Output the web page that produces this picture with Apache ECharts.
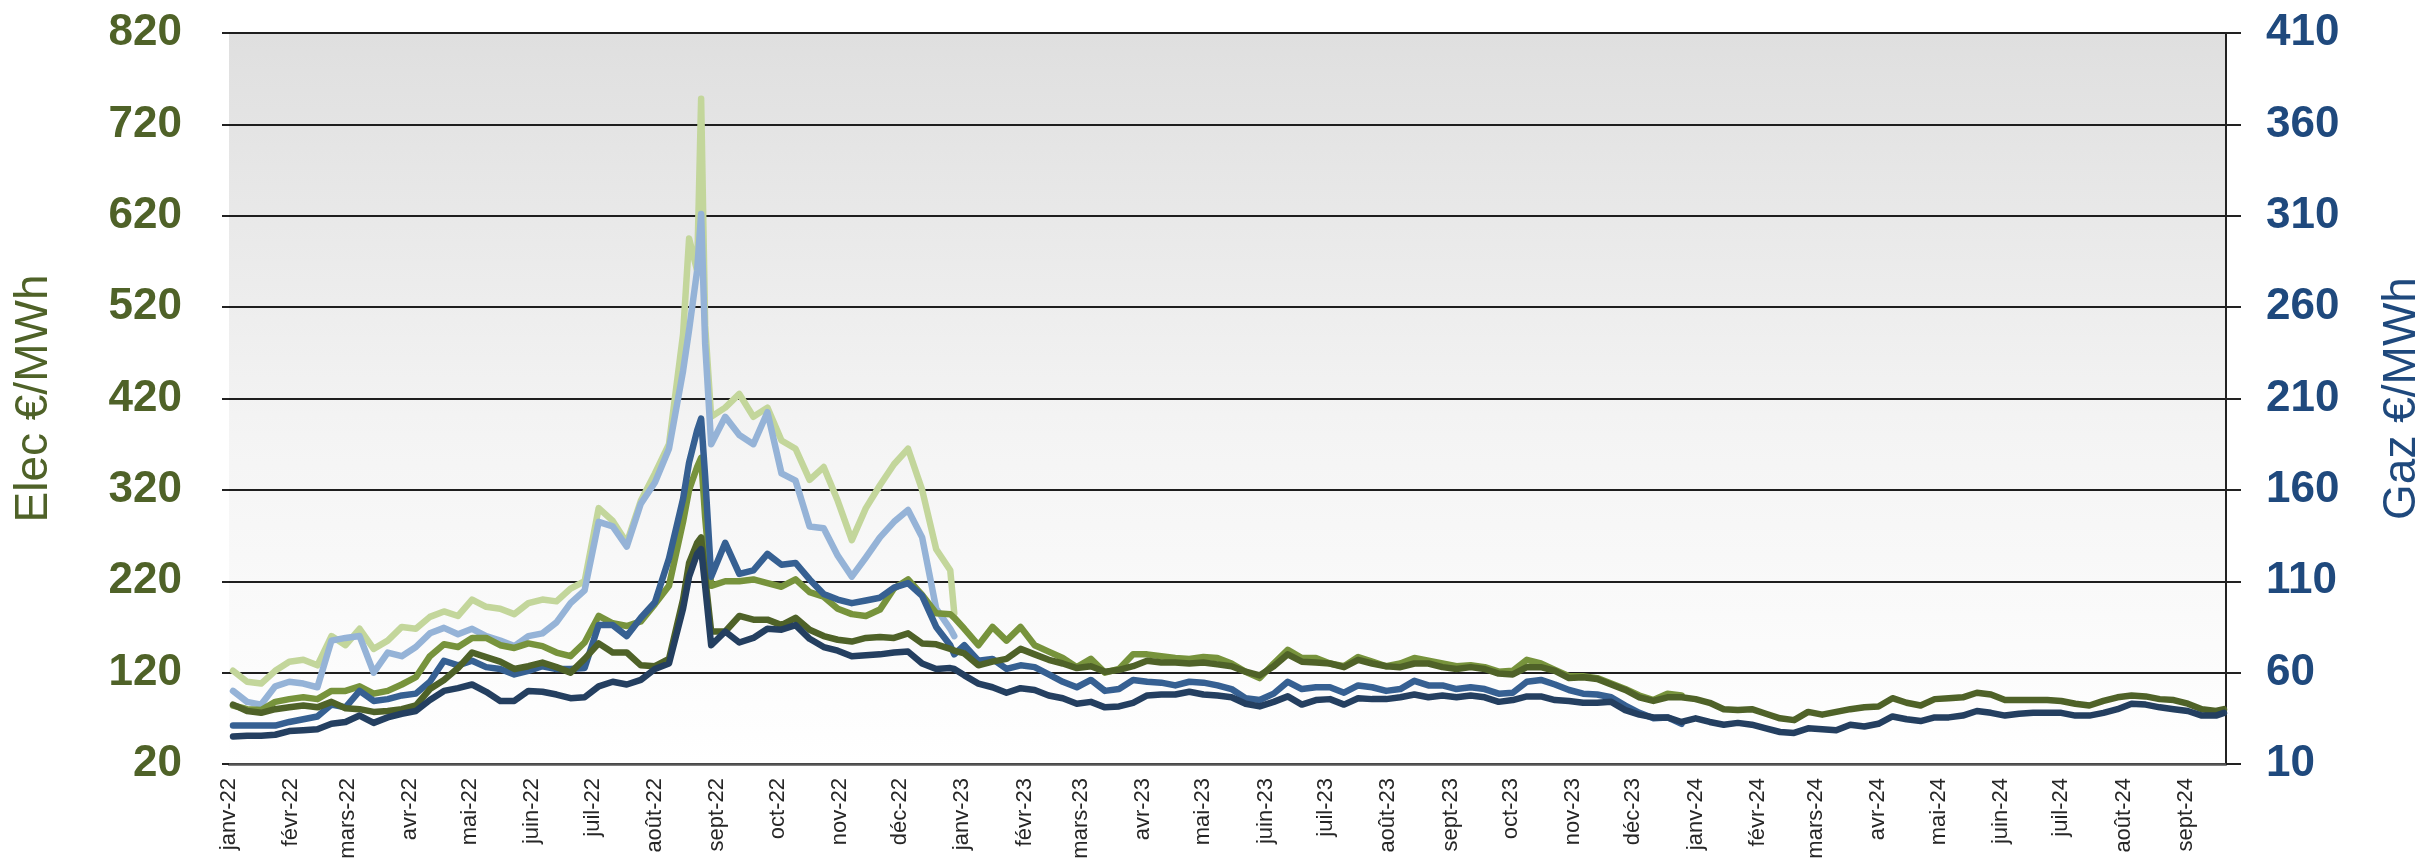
<!DOCTYPE html>
<html><head><meta charset="utf-8">
<script src="https://cdn.jsdelivr.net/npm/echarts@6/dist/echarts.min.js"></script>
<style>html,body{margin:0;padding:0;background:#fff;}#c{width:2433px;height:865px;}</style>
</head><body><div id="c"></div>
<script>
const dates = [
'2022-01-03','2022-01-10','2022-01-17','2022-01-24','2022-01-31',
'2022-02-07','2022-02-14','2022-02-21','2022-02-28',
'2022-03-07','2022-03-14','2022-03-21','2022-03-28',
'2022-04-04','2022-04-11','2022-04-18','2022-04-25',
'2022-05-02','2022-05-09','2022-05-16','2022-05-23','2022-05-30',
'2022-06-06','2022-06-13','2022-06-20','2022-06-27',
'2022-07-04','2022-07-11','2022-07-18','2022-07-25',
'2022-08-01','2022-08-08','2022-08-15','2022-08-18','2022-08-22','2022-08-24','2022-08-26','2022-08-29',
'2022-09-05','2022-09-12','2022-09-19','2022-09-26',
'2022-10-03','2022-10-10','2022-10-17','2022-10-24','2022-10-31',
'2022-11-07','2022-11-14','2022-11-21','2022-11-28',
'2022-12-05','2022-12-12','2022-12-19','2022-12-26','2022-12-28',
'2023-01-02','2023-01-09','2023-01-16','2023-01-23','2023-01-30',
'2023-02-06','2023-02-13','2023-02-20','2023-02-27',
'2023-03-06','2023-03-13','2023-03-20','2023-03-27',
'2023-04-03','2023-04-10','2023-04-17','2023-04-24',
'2023-05-01','2023-05-08','2023-05-15','2023-05-22','2023-05-29',
'2023-06-05','2023-06-12','2023-06-19','2023-06-26',
'2023-07-03','2023-07-10','2023-07-17','2023-07-24','2023-07-31',
'2023-08-07','2023-08-14','2023-08-21','2023-08-28',
'2023-09-04','2023-09-11','2023-09-18','2023-09-25',
'2023-10-02','2023-10-09','2023-10-16','2023-10-23','2023-10-30',
'2023-11-06','2023-11-13','2023-11-20','2023-11-27',
'2023-12-04','2023-12-11','2023-12-18','2023-12-25',
'2024-01-01','2024-01-08','2024-01-15','2024-01-22','2024-01-29',
'2024-02-05','2024-02-12','2024-02-19','2024-02-26',
'2024-03-04','2024-03-11','2024-03-18','2024-03-25',
'2024-04-01','2024-04-08','2024-04-15','2024-04-22','2024-04-29',
'2024-05-06','2024-05-13','2024-05-20','2024-05-27',
'2024-06-03','2024-06-10','2024-06-17','2024-06-24',
'2024-07-01','2024-07-08','2024-07-15','2024-07-22','2024-07-29',
'2024-08-05','2024-08-12','2024-08-19','2024-08-26',
'2024-09-02','2024-09-09','2024-09-16','2024-09-20'
];

const monthStarts = [
'2022-01-01','2022-02-01','2022-03-01','2022-04-01','2022-05-01','2022-06-01','2022-07-01','2022-08-01','2022-09-01','2022-10-01','2022-11-01','2022-12-01',
'2023-01-01','2023-02-01','2023-03-01','2023-04-01','2023-05-01','2023-06-01','2023-07-01','2023-08-01','2023-09-01','2023-10-01','2023-11-01','2023-12-01',
'2024-01-01','2024-02-01','2024-03-01','2024-04-01','2024-05-01','2024-06-01','2024-07-01','2024-08-01','2024-09-01'
];
const monthLabels = [
'janv-22','févr-22','mars-22','avr-22','mai-22','juin-22','juil-22','août-22','sept-22','oct-22','nov-22','déc-22',
'janv-23','févr-23','mars-23','avr-23','mai-23','juin-23','juil-23','août-23','sept-23','oct-23','nov-23','déc-23',
'janv-24','févr-24','mars-24','avr-24','mai-24','juin-24','juil-24','août-24','sept-24'
];
const elecTicks = [20,120,220,320,420,520,620,720,820];
const gazTicks = [10,60,110,160,210,260,310,360,410];

// Elec (left axis, €/MWh)
const elecCal23 = [
122,110,108,122,132,134,128,160,150,168,
146,155,170,168,181,187,182,200,192,190,
184,196,200,198,212,220,300,286,262,308,
338,370,490,
595,560,748,500,400,
410,425,400,410,374,365,331,345,308,265,
300,325,348,365,320,255,232,
185
];
const elecCal24 = [
84,80,79,88,91,93,91,100,100,105,
97,100,107,115,138,151,148,158,158,150,
147,152,149,142,138,153,182,174,171,176,
195,215,285,
320,345,355,290,215,
220,220,222,218,214,222,208,203,190,184,
182,189,212,222,205,185,184,
180,
168,150,170,
155,170,150,143,136,126,135,120,124,140,
140,138,136,135,137,136,130,121,114,130,
145,136,136,130,127,137,132,127,130,136,
133,130,127,
128,126,121,122,134,130,123,116,116,114,
108,102,95,90,97,95
];
const elecCal25 = [
85,78,76,80,82,84,82,88,81,80,
77,78,80,84,102,112,125,142,137,132,
124,127,131,126,120,135,152,142,142,128,
127,135,200,
240,262,268,225,165,
165,182,178,178,172,180,167,160,156,154,
158,159,158,163,152,151,146,
144,
141,128,132,
135,146,140,134,130,125,127,121,123,127,
133,131,131,130,131,129,127,121,117,127,
140,132,131,130,126,134,130,127,126,130,
130,126,124,
126,124,119,118,126,126,122,114,115,113,
107,101,93,89,93,93,
91,87,80,79,80,75,70,68,77,74,
77,80,82,83,92,87,84,91,
92,93,98,96,90,90,90,90,89,86,
84,89,93,95,94,91,90,86,80,78,
80
];
// Gaz (right axis, €/MWh)
const gazCal23 = [
50,44,42.5,52.5,55,54,52,77.5,79,80,
60,71,69,74,81.5,84.5,81,84,80,77.5,
74.5,80,81.5,87.5,98,105,142.5,140,129,152.5,
164,182.5,225,
247.5,280,311,240,185,
200,190,185,202.5,169,165,140,139,124,112.5,
123,134,142.5,149,134,95,84,
80
];
const gazCal24 = [
31,31,31,31,33,34.5,36,42.5,41,50,
44.5,45.5,47.5,48.5,55,66.5,64,66.5,63,62,
59,61,63.5,62,62,62.5,86,86,80,90,
98.5,122.5,155,
175,192.5,199,167.5,112.5,
131,114,116,125,119,120,111,103,100,98,
99.5,101,106.5,109,102,85,75,
70,
75,66.5,67.5,
62,64,63,59,55,52,56,50,51,56,
55,54.5,53,55,54.5,53,51,46,45,48.5,
55,51,52,52,49,53,52,50,51,55.5,
53,53,51,
52,51,48.5,49,55,56,53.5,50.5,48.5,48,
46.5,42,38,35,35.5,32
];
const gazCal25 = [
25,25.5,25.5,26,28,28.5,29,32,33,36.5,
32.5,35.5,37.5,39,45,50,51.5,53.5,49.5,44.5,
44.5,50,49.5,48,46,46.5,52.5,55,53.5,56,
62,65,95,
112.5,125,127.5,107.5,75,
82.5,76.5,79,84,83.5,86,78.5,74,72,69,
69.5,70,71,71.5,65,62,62.5,
62,
58.5,54,52,
49,51.5,50.5,47.5,46,43,44,41,41.5,43.5,
47.5,48,48,49.5,48,47.5,46.5,43,41.5,44,
47,42.5,45,45.5,42.5,46,45.5,45.5,46.5,48,
46.5,47.5,46.5,
47.5,46.5,44,45,47,47,45,44.5,43.5,43.5,
44,39.5,37,35.5,35.5,33,
35,33,31.5,32.5,31.5,29.5,27.5,27,29.5,29,
28.5,31.5,30.5,32,36,34.5,33.5,35.5,
35.5,36.5,39,38,36.5,37.5,38,38,38,36.5,
36.5,38,40,43,42.5,41,40,39,36.5,36.5,
38
];

const toTs = s => { const p = s.split('-'); return Date.UTC(+p[0], +p[1]-1, +p[2]); };
const monthTs = monthStarts.map(toTs);
const pairs = vals => vals.map((v, i) => [toTs(dates[i]), v]);

const FONT = 'Liberation Sans, Arial, sans-serif';
function line(name, vals, color, axis) {
  return {
    name, type: 'line', yAxisIndex: axis, data: pairs(vals),
    showSymbol: false, symbol: 'none', connectNulls: true,
    lineStyle: { color, width: 6.5, cap: 'round', join: 'round' },
    itemStyle: { color }, emphasis: { disabled: true }
  };
}

const chart = echarts.init(document.getElementById('c'));
chart.setOption({
  animation: false,
  backgroundColor: '#ffffff',
  grid: {
    left: 229, right: 196, top: 33, bottom: 101, show: true, borderWidth: 0,
    backgroundColor: { type: 'linear', x: 0, y: 0, x2: 0, y2: 1,
      colorStops: [{ offset: 0, color: '#dfdfdf' }, { offset: 0.55, color: '#f4f4f4' }, { offset: 1, color: '#ffffff' }] }
  },
  xAxis: {
    type: 'value', min: toTs('2022-01-01'), max: toTs('2024-09-21'),
    axisLine: { show: true, lineStyle: { color: '#555555', width: 2.5 } },
    axisTick: { show: false }, splitLine: { show: false },
    axisLabel: {
      customValues: monthTs, rotate: 90, fontSize: 22, color: '#262626', margin: 14, fontFamily: FONT,
      formatter: v => { const i = monthTs.findIndex(t => Math.abs(t - v) < 43200000); return i >= 0 ? monthLabels[i] : ''; }
    }
  },
  yAxis: [
    {
      type: 'value', position: 'left', min: elecTicks[0], max: elecTicks[elecTicks.length - 1], interval: 100,
      name: 'Elec €/MWh', nameLocation: 'middle', nameGap: 172, nameRotate: 90,
      nameTextStyle: { fontSize: 46, color: '#4f6228', fontFamily: FONT },
      axisLine: { show: false },
      axisTick: { show: true, length: 7, lineStyle: { color: '#222222', width: 2 } },
      axisLabel: { fontSize: 44, fontWeight: 'bold', color: '#4f6228', margin: 47, fontFamily: FONT },
      splitLine: { show: true, lineStyle: { color: '#1e1e1e', width: 2 } }
    },
    {
      type: 'value', position: 'right', min: gazTicks[0], max: gazTicks[gazTicks.length - 1], interval: 50,
      name: 'Gaz €/MWh', nameLocation: 'middle', nameGap: 153, nameRotate: 90,
      nameTextStyle: { fontSize: 46, color: '#1f497d', fontFamily: FONT },
      axisLine: { show: true, lineStyle: { color: '#222222', width: 2 } },
      axisTick: { show: true, length: 15, lineStyle: { color: '#222222', width: 2 } },
      axisLabel: { fontSize: 44, fontWeight: 'bold', color: '#1f497d', margin: 40, fontFamily: FONT },
      splitLine: { show: false }
    }
  ],
  series: [
    line('Elec Cal-23', elecCal23, '#c3d69b', 0),
    line('Gaz Cal-23', gazCal23, '#95b3d7', 1),
    line('Elec Cal-24', elecCal24, '#77933c', 0),
    line('Gaz Cal-24', gazCal24, '#366092', 1),
    line('Elec Cal-25', elecCal25, '#4f6228', 0),
    line('Gaz Cal-25', gazCal25, '#243f60', 1)
  ]
});
</script>
</body></html>
